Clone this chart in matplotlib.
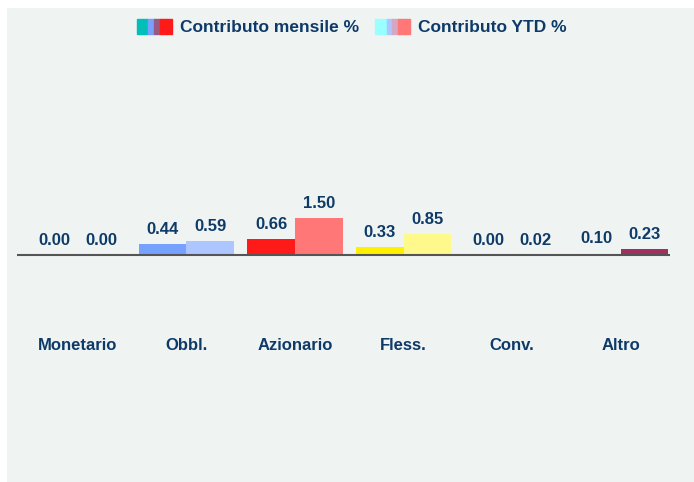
import matplotlib.pyplot as plt
from matplotlib.patches import Patch, Rectangle
from matplotlib.legend_handler import HandlerTuple
import numpy as np

categories = ["Monetario", "Obbl.", "Azionario", "Fless.", "Conv.", "Altro"]
mensile = [0.00, 0.44, 0.66, 0.33, 0.00, 0.10]
ytd = [0.00, 0.59, 1.50, 0.85, 0.02, 0.23]

col_mensile = ["#00BFB8", "#77A1FF", "#FF1A1A", "#FFF000", "#9A4060", "#EEF2F1"]
col_ytd = ["#99FFFF", "#ADC6FF", "#FF7777", "#FFF88A", "#D9B0C8", "#A03060"]

navy = "#0E3A68"
plt.rcParams['font.family'] = ['Liberation Sans', 'DejaVu Sans']

fig = plt.figure(figsize=(6.94, 4.82), dpi=100)
W, H = 694, 482

# grey panel
fig.patches.append(Rectangle((7 / W, 0), 1 - 7 / W, 1 - 8 / H, transform=fig.transFigure,
                             facecolor="#EFF3F2", edgecolor="none", zorder=-5))

# axes: x from 17 to 670 px, y from 60 to 440 px (from top)
ax = fig.add_axes([17 / W, 1 - 440 / H, (670 - 17) / W, (440 - 60) / H])
ax.set_facecolor("none")
ax.set_zorder(2)
for s in ax.spines.values():
    s.set_visible(False)
ax.set_xticks([])
ax.set_yticks([])

x = np.arange(len(categories))
w = 0.44
ax.bar(x - w / 2, mensile, w, color=col_mensile, zorder=2)
ax.bar(x + w / 2, ytd, w, color=col_ytd, zorder=2)
ax.set_xlim(-0.562, 5.456)
ppu = 24.5  # pixels per unit
ax.set_ylim(-185 / ppu, 195 / ppu)
ax.axhline(0, color="#555555", lw=1.5, zorder=3)

for xi, v in zip(x - w / 2, mensile):
    ax.annotate(f"{v:.2f}", (xi, v), xytext=(0, 5), textcoords="offset points",
                ha="center", va="bottom", fontsize=12, fontweight="bold", color=navy)
for xi, v in zip(x + w / 2, ytd):
    ax.annotate(f"{v:.2f}", (xi, v), xytext=(0, 5), textcoords="offset points",
                ha="center", va="bottom", fontsize=12, fontweight="bold", color=navy)

for xi, c in zip(x, categories):
    ax.text(xi, -91 / ppu, c, ha="center", va="center", fontsize=12,
            fontweight="bold", color=navy)

h1 = tuple(Patch(color=c) for c in ["#00BFB8", "#00BFB8", "#77A1FF", "#9A5A80", "#FF1A1A", "#FF1A1A"])
h2 = tuple(Patch(color=c) for c in ["#99FFFF", "#99FFFF", "#ADC6FF", "#D4A8C0", "#FF7777", "#FF7777"])
fig.legend([h1, h2], ["Contributo mensile %", "Contributo YTD %"],
           handler_map={tuple: HandlerTuple(ndivide=None, pad=0)},
           loc="center", bbox_to_anchor=(352 / W, 1 - 27 / H), ncol=2, frameon=False,
           prop={"weight": "bold", "size": 12.5}, labelcolor=navy,
           handlelength=2.0, handleheight=1.0, handletextpad=0.5, columnspacing=0.9)

fig.savefig("out.png", dpi=100)
